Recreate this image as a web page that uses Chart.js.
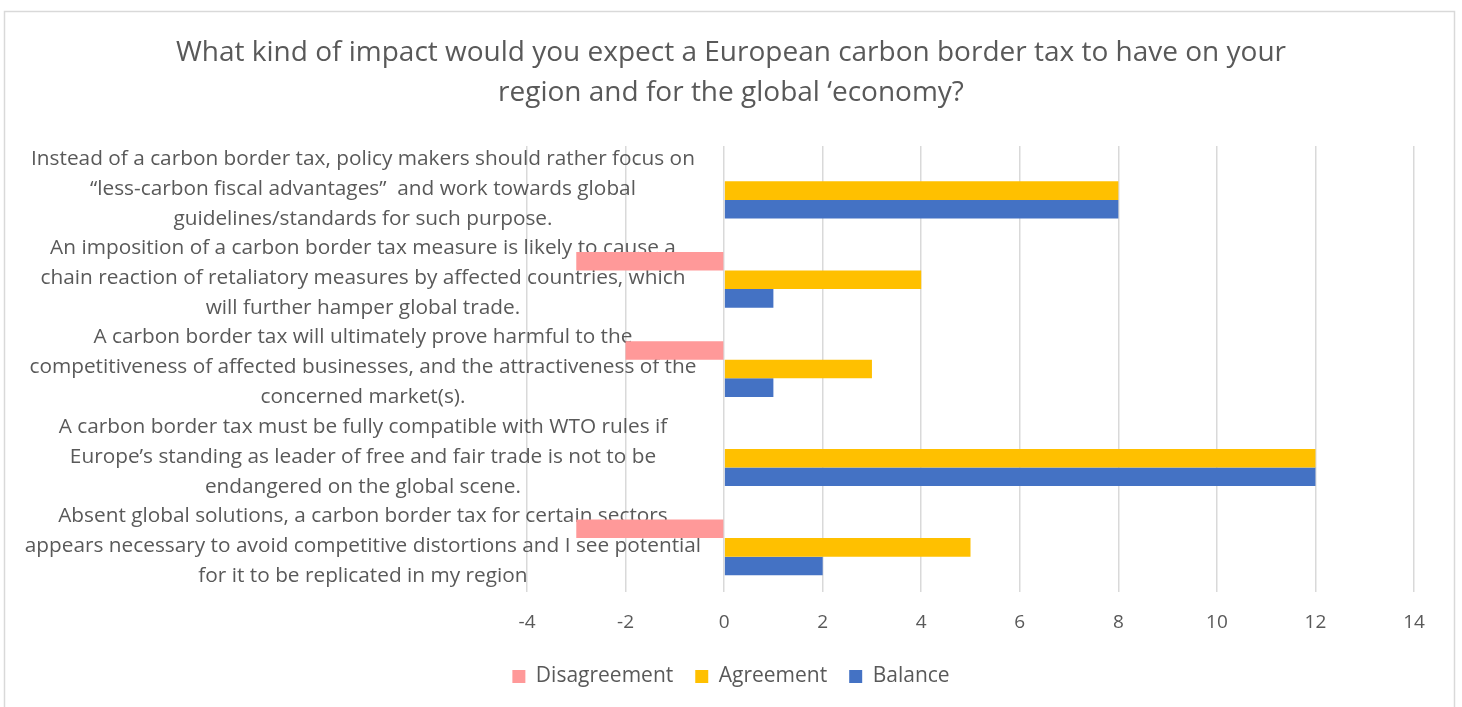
<!DOCTYPE html>
<html>
<head>
<meta charset="utf-8">
<script src="https://cdn.jsdelivr.net/npm/chart.js@4.4.1/dist/chart.umd.min.js"></script>
<style>
  html, body { margin: 0; padding: 0; background: #ffffff; }
  #wrap { position: absolute; left: 0; top: 0; width: 1462px; height: 707px; }
</style>
</head>
<body>
<div id="wrap"><canvas id="c" width="1462" height="707"></canvas></div>
<script>
const titleLines = [
  "What kind of impact would you expect a European carbon border tax to have on your",
  "region and for the global \u2018economy?"
];
const categories = [
  ["Instead of a carbon border tax, policy makers should rather focus on",
   "\u201cless-carbon fiscal advantages\u201d  and work towards global",
   "guidelines/standards for such purpose."],
  ["An imposition of a carbon border tax measure is likely to cause a",
   "chain reaction of retaliatory measures by affected countries, which",
   "will further hamper global trade."],
  ["A carbon border tax will ultimately prove harmful to the",
   "competitiveness of affected businesses, and the attractiveness of the",
   "concerned market(s)."],
  ["A carbon border tax must be fully compatible with WTO rules if",
   "Europe\u2019s standing as leader of free and fair trade is not to be",
   "endangered on the global scene."],
  ["Absent global solutions, a carbon border tax for certain sectors",
   "appears necessary to avoid competitive distortions and I see potential",
   "for it to be replicated in my region"]
];
const disagreement = [0, -3, -2, 0, -3];
const agreement = [8, 4, 3, 12, 5];
const balance = [8, 1, 1, 12, 2];
const xMin = -4, xMax = 14, xStep = 2;

const FONT = "'Open Sans', Lato, sans-serif";
const GREY = "#595959";

const frame = {
  id: "frame",
  beforeDraw(chart) {
    const ctx = chart.ctx;
    ctx.save();
    ctx.fillStyle = "#ffffff";
    ctx.fillRect(0, 0, chart.width, chart.height);
    ctx.strokeStyle = "#d9d9d9";
    ctx.lineWidth = 1.5;
    ctx.strokeRect(4.5, 11.5, 1450, 710);
    ctx.restore();
  }
};

const catLabels = {
  id: "catLabels",
  beforeDatasetsDraw(chart) {
    const ctx = chart.ctx;
    const ys = chart.scales.y, xs = chart.scales.x;
    ctx.save();
    ctx.font = "20.8px " + FONT;
    ctx.fillStyle = GREY;
    ctx.textAlign = "center";
    ctx.textBaseline = "middle";
    let widest = 0;
    chart.data.labels.forEach(l => l.forEach(s => { widest = Math.max(widest, ctx.measureText(s).width); }));
    const cx = xs.getPixelForValue(0) - 23 - widest / 2;
    const lh = 30;
    chart.data.labels.forEach((lines, i) => {
      const y = ys.getPixelForTick(i) - 1.5;
      const y0 = y - (lines.length - 1) / 2 * lh;
      lines.forEach((s, k) => ctx.fillText(s, cx, y0 + k * lh));
    });
    ctx.restore();
  }
};

new Chart(document.getElementById("c"), {
  type: "bar",
  data: {
    labels: categories,
    datasets: [
      { label: "Disagreement", data: disagreement, backgroundColor: "#FF9999" },
      { label: "Agreement", data: agreement, backgroundColor: "#FFC000" },
      { label: "Balance", data: balance, backgroundColor: "#4472C4" }
    ]
  },
  options: {
    indexAxis: "y",
    responsive: false,
    animation: false,
    devicePixelRatio: 1,
    categoryPercentage: 0.625,
    barPercentage: 1,
    layout: { padding: { left: 0, right: 0, top: 0, bottom: 10 } },
    scales: {
      x: {
        min: xMin, max: xMax,
        ticks: { stepSize: xStep, color: GREY, font: { family: FONT, size: 19 }, padding: 19 },
        grid: { color: "#d9d9d9", lineWidth: 1.5, drawTicks: false },
        border: { display: false },
        afterFit(s) { s.height = 52; }
      },
      y: {
        display: true,
        ticks: { display: false },
        grid: { display: false, drawTicks: false },
        border: { display: false },
        afterFit(s) { s.width = 527; }
      },
      yRight: {
        type: "category",
        axis: "y",
        position: "right",
        display: true,
        ticks: { display: false },
        grid: { display: false, drawTicks: false },
        border: { display: false },
        afterFit(s) { s.width = 48; }
      }
    },
    plugins: {
      title: {
        display: true,
        text: titleLines,
        color: GREY,
        font: { family: FONT, size: 28, weight: "normal", lineHeight: "40px" },
        padding: { top: 33, bottom: 33 }
      },
      legend: {
        position: "bottom",
        labels: {
          color: GREY,
          boxWidth: 13, boxHeight: 13,
          padding: 22,
          font: { family: FONT, size: 21, lineHeight: 1 }
        }
      },
      tooltip: { enabled: false }
    }
  },
  plugins: [frame, catLabels]
});
</script>
</body>
</html>
